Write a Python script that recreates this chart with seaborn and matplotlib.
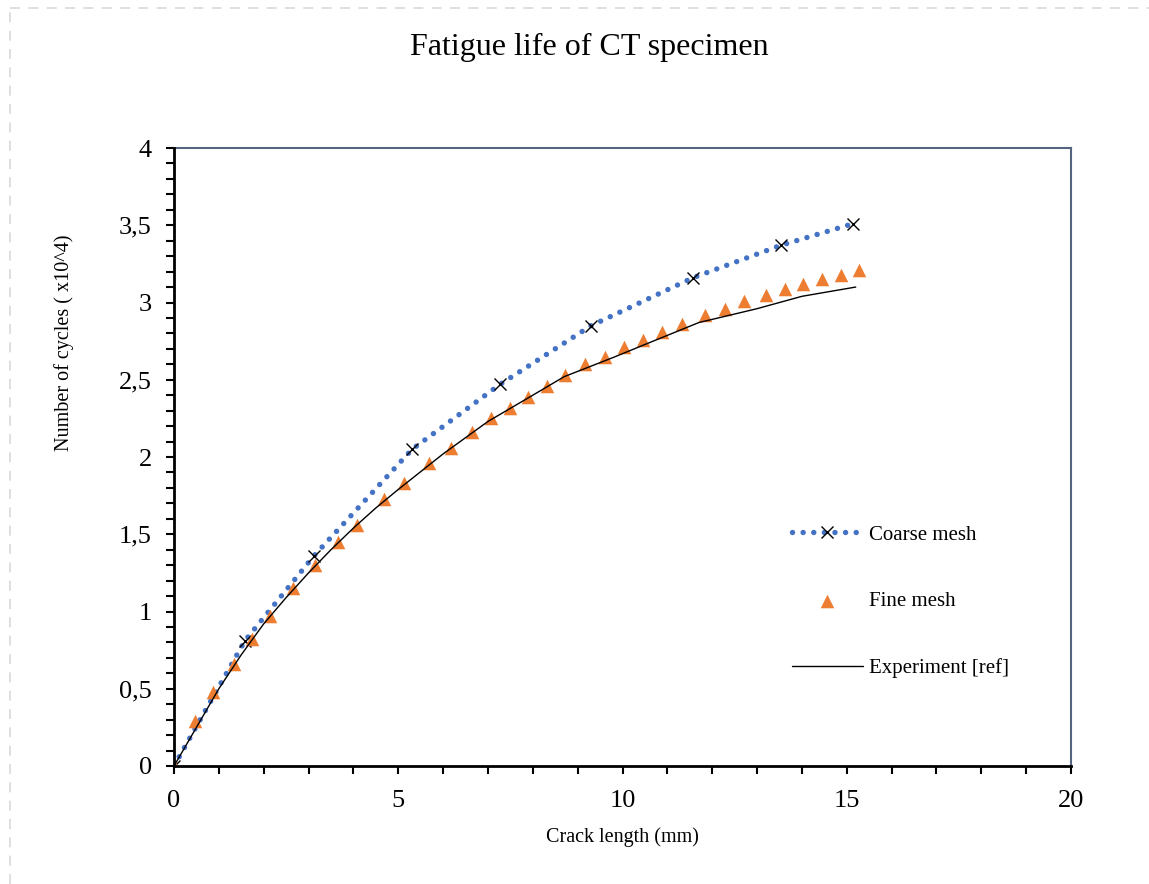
import numpy as np
import pandas as pd
import matplotlib
matplotlib.use("Agg")
import matplotlib.pyplot as plt
from matplotlib.lines import Line2D
from matplotlib.ticker import MultipleLocator, FuncFormatter
import seaborn as sns

# ---- data ----
coarse_x = [0.0, 1.58, 3.12, 5.31, 7.27, 9.30, 11.57, 13.53, 15.14]
coarse_y = [0.0, 0.81, 1.36, 2.05, 2.47, 2.85, 3.16, 3.37, 3.51]

fine_x = [0.0, 0.46, 0.88, 1.34, 1.73, 2.14, 2.66, 3.14, 3.66, 4.07, 4.69, 5.13,
          5.69, 6.18, 6.64, 7.07, 7.49, 7.89, 8.32, 8.72, 9.17, 9.61, 10.03,
          10.45, 10.87, 11.33, 11.85, 12.29, 12.72, 13.21, 13.62, 14.03, 14.45,
          14.87, 15.28]
fine_y = [0.0, 0.29, 0.48, 0.66, 0.82, 0.97, 1.15, 1.30, 1.45, 1.56, 1.73, 1.83,
          1.96, 2.06, 2.16, 2.25, 2.32, 2.39, 2.46, 2.53, 2.60, 2.65, 2.71,
          2.76, 2.81, 2.86, 2.92, 2.96, 3.01, 3.05, 3.09, 3.12, 3.15, 3.18, 3.21]

exp_x = [0.0, 0.5, 1.0, 1.5, 2.0, 2.5, 3.0, 3.5, 4.0, 4.5, 5.0, 6.0, 7.0, 8.0,
         8.7, 9.8, 10.6, 11.7, 13.0, 14.0, 15.2]
exp_y = [0.0, 0.25, 0.50, 0.72, 0.92, 1.09, 1.25, 1.40, 1.54, 1.67, 1.79, 2.02,
         2.23, 2.40, 2.52, 2.645, 2.74, 2.87, 2.96, 3.04, 3.10]

title = "Fatigue life of CT specimen"
xlabel = "Crack length (mm)"
ylabel = "Number of cycles ( x10^4)"
labels = ["Coarse mesh", "Fine mesh", "Experiment [ref]"]

coarse = pd.DataFrame({"x": coarse_x, "y": coarse_y})
fine = pd.DataFrame({"x": fine_x, "y": fine_y})
exper = pd.DataFrame({"x": exp_x, "y": exp_y})

sns.set_theme(style="white")
plt.rcParams["font.family"] = ["Liberation Serif", "DejaVu Serif"]
plt.rcParams["text.color"] = "black"
plt.rcParams["axes.labelcolor"] = "black"
plt.rcParams["xtick.color"] = "black"
plt.rcParams["ytick.color"] = "black"

fig = plt.figure(figsize=(11.49, 8.84), dpi=100)
ax = fig.add_axes([174 / 1149, 1 - 766 / 884, (1071 - 174) / 1149, (766 - 148) / 884])

blue = "#4472C4"
orange = "#ED7D31"

sns.lineplot(data=coarse, x="x", y="y", ax=ax, sort=False, color=blue,
             linewidth=3.9, linestyle=(0, (0.01, 1.95)), dash_capstyle="round",
             marker="x", markersize=9, markeredgecolor="black", markerfacecolor="black",
             markeredgewidth=1.0, label=labels[0], zorder=3)
sns.scatterplot(data=fine, x="x", y="y", ax=ax, color=orange, marker="^", s=95,
                linewidth=0, label=labels[1], zorder=4)
sns.lineplot(data=exper, x="x", y="y", ax=ax, sort=False, color="black",
             linewidth=1.0, label=labels[2], zorder=5)

ax.set_xlim(0, 20)
ax.set_ylim(0, 4)
ax.xaxis.set_major_locator(MultipleLocator(5))
ax.xaxis.set_minor_locator(MultipleLocator(1))
ax.yaxis.set_major_locator(MultipleLocator(0.5))
ax.yaxis.set_minor_locator(MultipleLocator(0.1))

def comma(v, pos):
    s = f"{v:g}"
    return s.replace(".", ",")

ax.yaxis.set_major_formatter(FuncFormatter(comma))
ax.xaxis.set_major_formatter(FuncFormatter(comma))

ax.tick_params(axis="both", which="both", direction="out", length=6, width=1.5,
               color="black", left=True, bottom=True, top=False, right=False)
ax.tick_params(axis="both", which="major", labelsize=19)
ax.tick_params(axis="x", which="major", pad=11)
ax.tick_params(axis="y", which="major", pad=10)

for s in ["left", "bottom"]:
    ax.spines[s].set_color("black")
    ax.spines[s].set_linewidth(2.0)
for s in ["top", "right"]:
    ax.spines[s].set_color("#56657F")
    ax.spines[s].set_linewidth(1.5)
ax.spines["left"].set_zorder(6)
ax.spines["bottom"].set_zorder(6)

ax.set_xlabel(xlabel, fontsize=14.5, labelpad=11)
ax.set_ylabel(ylabel, fontsize=14.5)
ax.yaxis.set_label_coords(-0.111, (766 - 343) / 618)

fig.text(0.5125, 1 - 47 / 884, title, ha="center", va="center", fontsize=23)

leg = ax.legend(loc="center left", bbox_to_anchor=(0.668, 0.266), frameon=False,
                fontsize=15, labelspacing=2.25, handlelength=3.4, handletextpad=0.3)
for t in leg.get_texts():
    t.set_color("black")

# dashed frame around the chart area
fig.add_artist(Line2D([10 / 1149, 10 / 1149], [0, 1 - 8 / 884], transform=fig.transFigure,
                      color="#D9D9D9", linewidth=1.2, linestyle=(0, (6, 5))))
fig.add_artist(Line2D([10 / 1149, 1], [1 - 8 / 884, 1 - 8 / 884], transform=fig.transFigure,
                      color="#D9D9D9", linewidth=1.2, linestyle=(0, (6, 5))))

fig.savefig("out.png", dpi=100)
